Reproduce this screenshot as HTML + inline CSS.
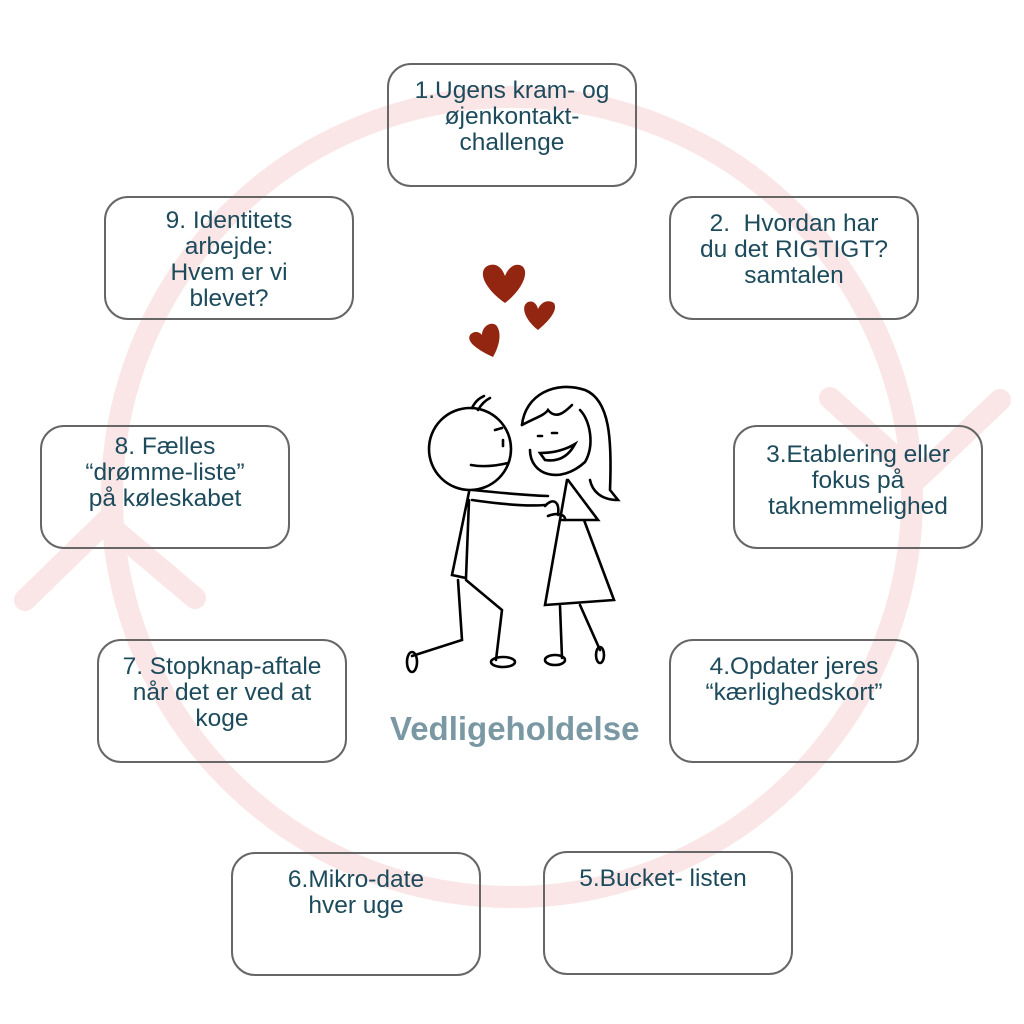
<!DOCTYPE html>
<html><head><meta charset="utf-8"><style>
body{margin:0;width:1024px;height:1024px;background:#fff;position:relative;overflow:hidden;font-family:"Liberation Sans",sans-serif}
.b{position:absolute;width:246px;height:120px;border:2.5px solid #666;border-radius:24px;box-sizing:border-box;color:#1d4b5c;font-size:24.5px;line-height:26px;text-align:center;padding-top:13px;white-space:nowrap}
.t{position:absolute;left:390px;top:710px;font-size:33px;font-weight:bold;color:#7a98a4}
</style></head><body>
<svg width="1024" height="1024" style="position:absolute;left:0;top:0">
<g fill="none" stroke="#fae6e6" stroke-width="22" stroke-linecap="round">
<circle cx="512" cy="497" r="400"/>
<polyline points="25,600 105,522 195,598"/>
<polyline points="830,398 918,478 1000,400"/>
</g>
<g fill="#922610">
<path d="M505,303 C480,285 478,268 490,265 C498,263 503,270 505,276 C508,268 515,262 522,266 C530,272 522,290 505,303Z"/>
<path d="M538,330 C525,320 520,306 528,302 C534,300 537,305 538,309 C541,302 548,299 554,303 C558,310 550,320 538,330Z"/>
<path d="M493,357 C478,350 466,342 470,335 C474,330 480,332 482,335 C482,327 490,321 496,325 C502,332 500,345 493,357Z"/>
</g>
<g fill="none" stroke="#000" stroke-width="2.6" stroke-linecap="round">
<circle cx="470" cy="449" r="41"/>
<path d="M472,408 C476,400 480,398 484,396 M478,410 C482,403 486,400 490,398"/>
<path d="M471,465 Q487,468 508,463"/>
<path d="M495,430 L502,428 M503,440 L503,446"/>
<path d="M473,490 Q520,495 548,496 M472,500 Q520,507 545,505"/>
<path d="M469,492 L452,575 L466,578 L469,500"/>
<path d="M458,580 L462,640 L412,656 M466,580 L502,610 L496,660"/>
<ellipse cx="412" cy="662" rx="5" ry="10"/>
<ellipse cx="503" cy="662" rx="12" ry="5"/>
<path d="M522,425 C525,395 555,380 585,390 C610,400 612,440 610,490 L618,500 C600,500 592,490 590,480"/>
<path d="M522,425 C535,418 545,415 548,410 C556,420 565,412 572,405"/>
<path d="M530,450 C530,475 560,485 585,462 C595,445 590,420 580,410"/>
<path d="M540,453 Q560,453 575,444 Q565,463 545,460Z"/>
<path d="M538,436 L542,436 M552,433 L557,433"/>
<path d="M568,480 L598,520 L560,520 M567,480 L545,605 L614,600 L584,520"/>
<path d="M545,506 C552,498 560,500 558,515 M548,516 C558,512 566,515 565,520"/>
<path d="M560,606 L562,658 M580,605 L600,650"/>
<ellipse cx="555" cy="660" rx="10" ry="5"/>
<ellipse cx="600" cy="655" rx="4" ry="8"/>
</g>
</svg>
<div class="b" style="left:387px;top:63px;width:250px;height:124px">1.Ugens kram- og<br>øjenkontakt-<br>challenge</div>
<div class="b" style="left:669px;top:196px;width:250px;height:124px">2.&nbsp; Hvordan har<br>du det RIGTIGT?<br>samtalen</div>
<div class="b" style="left:733px;top:425px;width:250px;height:124px;padding-top:15px">3.Etablering eller<br>fokus på<br>taknemmelighed</div>
<div class="b" style="left:669px;top:639px;width:250px;height:124px">4.Opdater jeres<br>“kærlighedskort”</div>
<div class="b" style="left:543px;top:851px;width:250px;height:124px;padding-right:10px">5.Bucket- listen</div>
<div class="b" style="left:231px;top:852px;width:250px;height:124px">6.Mikro-date<br>hver uge</div>
<div class="b" style="left:97px;top:639px;width:250px;height:124px">7. Stopknap-aftale<br>når det er ved at<br>koge</div>
<div class="b" style="left:40px;top:425px;width:250px;height:124px;padding-top:7px">8. Fælles<br>“drømme-liste”<br>på køleskabet</div>
<div class="b" style="left:104px;top:196px;width:250px;height:124px;padding-top:10px">9. Identitets<br>arbejde:<br>Hvem er vi<br>blevet?</div>
<div class="t">Vedligeholdelse</div>
</body></html>
